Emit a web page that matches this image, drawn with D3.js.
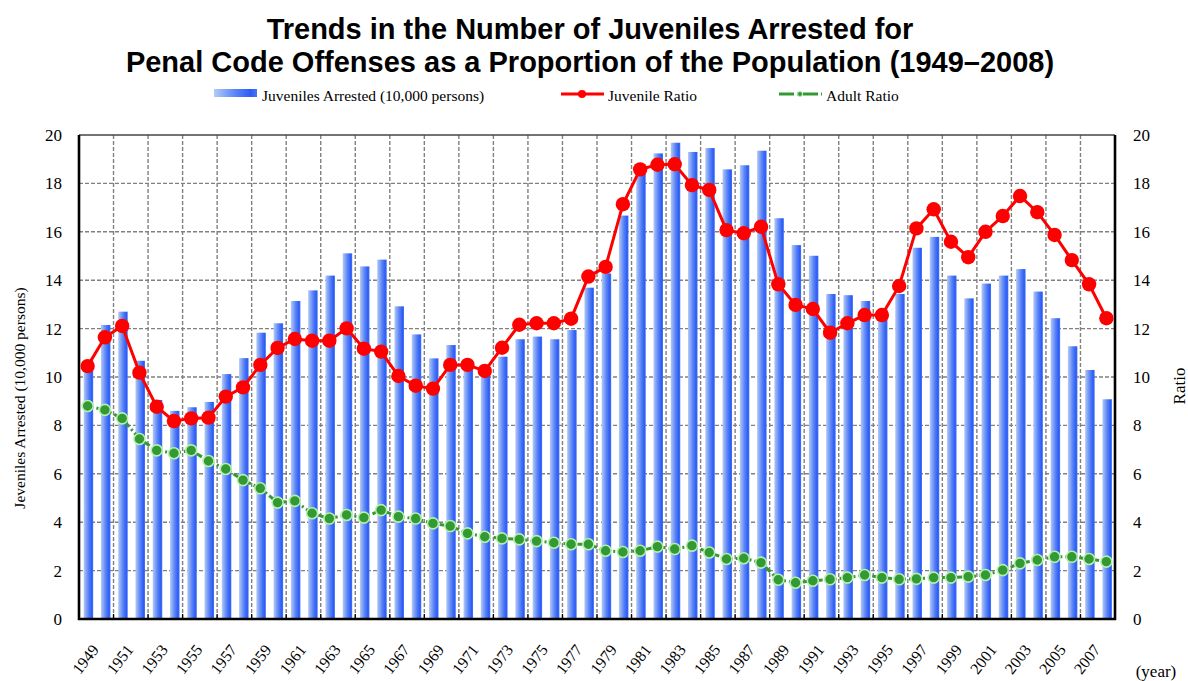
<!DOCTYPE html>
<html>
<head>
<meta charset="utf-8">
<script src="https://cdn.jsdelivr.net/npm/d3@7"></script>
<style>
  body { margin: 0; background: #fff; }
  text { font-family: "Liberation Serif", "Times New Roman", serif; fill: #000; }
  .title { font-family: "Liberation Sans", Arial, sans-serif; font-weight: bold; font-size: 29px; }
</style>
</head>
<body>
<div id="chart"></div>
<script>
// data
var years = d3.range(1949, 2009);

var arrested = [10.7, 12.15, 12.7, 10.67, 9.05, 8.6, 8.75, 8.97, 10.12, 10.78,
  11.83, 12.22, 13.14, 13.58, 14.19, 15.11, 14.57, 14.85, 12.92, 11.76,
  10.77, 11.32, 10.4, 10.1, 10.84, 11.56, 11.67, 11.56, 11.94, 13.69,
  14.28, 16.67, 18.6, 19.24, 19.68, 19.3, 19.46, 18.58, 18.75, 19.35,
  16.56, 15.45, 15.01, 13.43, 13.38, 13.14, 12.8, 13.43, 15.34, 15.79,
  14.19, 13.25, 13.86, 14.19, 14.46, 13.53, 12.43, 11.27, 10.29, 9.08];

var juvenileRatio = [10.45, 11.64, 12.11, 10.18, 8.77, 8.18, 8.29, 8.32, 9.19, 9.57,
  10.5, 11.2, 11.57, 11.5, 11.5, 12.01, 11.17, 11.05, 10.04, 9.64,
  9.52, 10.5, 10.5, 10.25, 11.21, 12.16, 12.22, 12.22, 12.41, 14.15,
  14.55, 17.14, 18.58, 18.77, 18.79, 17.93, 17.73, 16.07, 15.94, 16.21,
  13.83, 12.98, 12.81, 11.83, 12.22, 12.56, 12.56, 13.76, 16.14, 16.93,
  15.59, 14.95, 16.0, 16.65, 17.48, 16.81, 15.87, 14.83, 13.83, 12.43];

var adultRatio = [8.8, 8.64, 8.29, 7.44, 6.97, 6.85, 6.97, 6.53, 6.2, 5.74,
  5.4, 4.81, 4.88, 4.37, 4.15, 4.3, 4.19, 4.5, 4.23, 4.15,
  3.95, 3.84, 3.54, 3.4, 3.33, 3.29, 3.22, 3.15, 3.09, 3.09,
  2.82, 2.77, 2.82, 2.99, 2.89, 3.03, 2.75, 2.48, 2.51, 2.33,
  1.62, 1.5, 1.58, 1.64, 1.71, 1.82, 1.71, 1.64, 1.66, 1.71,
  1.71, 1.75, 1.82, 2.02, 2.3, 2.44, 2.57, 2.57, 2.48, 2.37];

var yTicks = d3.range(0, 21, 2);
var yearLabels = years.filter(y => y % 2 === 1);

// svg params
var svgWidth = 1188;
var svgHeight = 681;

var margin = { top: 135, right: 73, bottom: 62, left: 79 };
var chartWidth = svgWidth - margin.left - margin.right;
var chartHeight = svgHeight - margin.top - margin.bottom;

var svg = d3.select("#chart")
  .append("svg")
  .attr("width", svgWidth)
  .attr("height", svgHeight);

// bar gradient
var defs = svg.append("defs");
var grad = defs.append("linearGradient")
  .attr("id", "barGrad")
  .attr("x1", "0%").attr("x2", "100%").attr("y1", "0%").attr("y2", "0%");
grad.append("stop").attr("offset", "0%").attr("stop-color", "#b4caf6");
grad.append("stop").attr("offset", "50%").attr("stop-color", "#5a84f5");
grad.append("stop").attr("offset", "85%").attr("stop-color", "#2c5cf7");
grad.append("stop").attr("offset", "100%").attr("stop-color", "#4675f1");

// title
svg.append("text").attr("class", "title")
  .attr("x", 590).attr("y", 39)
  .attr("text-anchor", "middle")
  .text("Trends in the Number of Juveniles Arrested for");
svg.append("text").attr("class", "title")
  .attr("x", 590).attr("y", 72)
  .attr("text-anchor", "middle")
  .text("Penal Code Offenses as a Proportion of the Population (1949\u20132008)");

var chartGroup = svg.append("g")
  .attr("transform", `translate(${margin.left}, ${margin.top})`);

// scales
var xScale = d3.scaleBand()
  .domain(years)
  .range([0, chartWidth]);

var yLeft = d3.scaleLinear().domain([0, 20]).range([chartHeight, 0]);
var yRight = d3.scaleLinear().domain([0, 20]).range([chartHeight, 0]);

var bw = xScale.bandwidth();
var cx = d => xScale(d) + bw / 2;

// grid lines
chartGroup.append("g")
  .selectAll("line")
  .data(yTicks.filter(t => t > 0 && t < 20))
  .enter().append("line")
  .attr("x1", 0).attr("x2", chartWidth)
  .attr("y1", d => yLeft(d)).attr("y2", d => yLeft(d))
  .attr("stroke", "#808080")
  .attr("stroke-width", 1.4)
  .attr("stroke-dasharray", "4,2");

chartGroup.append("g")
  .selectAll("line")
  .data(years.filter((y, i) => i > 0 && i % 2 === 0))
  .enter().append("line")
  .attr("x1", d => xScale(d)).attr("x2", d => xScale(d))
  .attr("y1", 0).attr("y2", chartHeight)
  .attr("stroke", "#808080")
  .attr("stroke-width", 1.4)
  .attr("stroke-dasharray", "4,2");

// small tick marks at the bottom
chartGroup.append("g")
  .selectAll("line")
  .data(years.filter((y, i) => i > 0 && i % 2 === 0))
  .enter().append("line")
  .attr("x1", d => xScale(d)).attr("x2", d => xScale(d))
  .attr("y1", chartHeight - 5).attr("y2", chartHeight)
  .attr("stroke", "#000")
  .attr("stroke-width", 1.3);

// bars
var barW = bw * 0.55;
chartGroup.selectAll(".bar")
  .data(arrested)
  .enter().append("rect")
  .attr("class", "bar")
  .attr("x", (d, i) => cx(years[i]) - barW / 2 + 0.8)
  .attr("width", barW)
  .attr("y", d => yLeft(d))
  .attr("height", d => chartHeight - yLeft(d))
  .attr("fill", "url(#barGrad)");

// frame
chartGroup.append("line")
  .attr("x1", 0).attr("x2", chartWidth).attr("y1", 0).attr("y2", 0)
  .attr("stroke", "#444").attr("stroke-width", 1.5);
chartGroup.append("path")
  .attr("d", `M0,0V${chartHeight}H${chartWidth}V0`)
  .attr("fill", "none")
  .attr("stroke", "#000")
  .attr("stroke-width", 2.6);

// adult ratio line
var adultLine = d3.line()
  .x((d, i) => cx(years[i]))
  .y(d => yRight(d));

chartGroup.append("path")
  .datum(adultRatio)
  .attr("d", adultLine)
  .attr("fill", "none")
  .attr("stroke", "#339933")
  .attr("stroke-width", 3)
  .attr("stroke-dasharray", "6,3,2,3");

chartGroup.selectAll(".adot")
  .data(adultRatio)
  .enter().append("circle")
  .attr("class", "adot")
  .attr("cx", (d, i) => cx(years[i]))
  .attr("cy", d => yRight(d))
  .attr("r", 5.5)
  .attr("fill", "#339933")
  .attr("stroke", "#b6efae")
  .attr("stroke-width", 1.6);

// juvenile ratio line
var juvLine = d3.line()
  .x((d, i) => cx(years[i]))
  .y(d => yRight(d));

chartGroup.append("path")
  .datum(juvenileRatio)
  .attr("d", juvLine)
  .attr("fill", "none")
  .attr("stroke", "#ff0000")
  .attr("stroke-width", 3);

chartGroup.selectAll(".jdot")
  .data(juvenileRatio)
  .enter().append("circle")
  .attr("class", "jdot")
  .attr("cx", (d, i) => cx(years[i]))
  .attr("cy", d => yRight(d))
  .attr("r", 7.2)
  .attr("fill", "#ff0000");

// axes
var leftAxis = d3.axisLeft(yLeft).tickValues(yTicks).tickSize(0).tickPadding(17);
var rightAxis = d3.axisRight(yRight).tickValues(yTicks).tickSize(0).tickPadding(18);

var gl = chartGroup.append("g").call(leftAxis);
var gr = chartGroup.append("g")
  .attr("transform", `translate(${chartWidth}, 0)`)
  .call(rightAxis);
[gl, gr].forEach(g => {
  g.select(".domain").remove();
  g.selectAll("text")
    .style("font-family", '"Liberation Serif", serif')
    .style("font-size", "17px");
});

// year labels
chartGroup.append("g")
  .selectAll("text")
  .data(yearLabels)
  .enter().append("text")
  .attr("transform", d => `translate(${cx(d) + 12}, ${chartHeight + 31}) rotate(-52)`)
  .attr("text-anchor", "end")
  .style("font-size", "16px")
  .text(d => d);

svg.append("text")
  .attr("x", 1156).attr("y", 677)
  .attr("text-anchor", "middle")
  .style("font-size", "17px")
  .text("(year)");

// axis titles
svg.append("text")
  .attr("transform", "translate(25, 398) rotate(-90)")
  .attr("text-anchor", "middle")
  .style("font-size", "15.5px")
  .text("Jeveniles Arrested (10,000 persons)");

svg.append("text")
  .attr("transform", "translate(1185, 386) rotate(-90)")
  .attr("text-anchor", "middle")
  .style("font-size", "17px")
  .text("Ratio");

// legend
var legend = svg.append("g").attr("transform", "translate(0, 97)");

legend.append("rect")
  .attr("x", 214).attr("y", -8).attr("width", 43).attr("height", 8)
  .attr("fill", "url(#barGrad)");
legend.append("text")
  .attr("x", 262).attr("y", 4)
  .style("font-size", "15.5px")
  .text("Juveniles Arrested (10,000 persons)");

legend.append("line")
  .attr("x1", 561).attr("x2", 604).attr("y1", -3).attr("y2", -3)
  .attr("stroke", "#ff0000").attr("stroke-width", 3);
legend.append("circle")
  .attr("cx", 582).attr("cy", -3).attr("r", 4).attr("fill", "#ff0000");
legend.append("text")
  .attr("x", 608).attr("y", 4)
  .style("font-size", "15.5px")
  .text("Juvenile Ratio");

legend.append("line")
  .attr("x1", 779).attr("x2", 822).attr("y1", -3).attr("y2", -3)
  .attr("stroke", "#339933").attr("stroke-width", 3)
  .attr("stroke-dasharray", "15,3,3,3");
legend.append("circle")
  .attr("cx", 800).attr("cy", -3).attr("r", 2.5)
  .attr("fill", "#339933").attr("stroke", "#b6efae").attr("stroke-width", 1);
legend.append("text")
  .attr("x", 826).attr("y", 4)
  .style("font-size", "15.5px")
  .text("Adult Ratio");
</script>
</body>
</html>
